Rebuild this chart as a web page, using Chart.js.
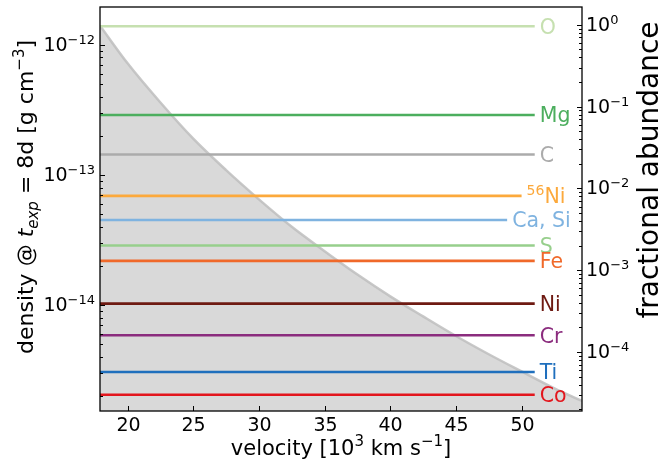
<!DOCTYPE html>
<html>
<head>
<meta charset="utf-8">
<script src="https://cdn.jsdelivr.net/npm/chart.js@4.4.0/dist/chart.umd.min.js"></script>
<style>
  html, body { margin: 0; padding: 0; background: #fff; }
</style>
</head>
<body>
<canvas id="chart" width="665" height="460"></canvas>
<script>
// ── Datos ─────────────────────────────────────────────────────────────────────
// perfil de densidad (zona sombreada, eje izquierdo)
const velocity = [17.9, 20, 22.5, 25, 27.5, 30, 32.5, 35, 37.5, 40, 42.5, 45, 47.5, 50, 52.5, 54.6];
const density  = [1.4e-12, 7.2e-13, 3.6e-13, 1.9e-13, 1.09e-13, 6.5e-14, 4.0e-14, 2.6e-14,
                  1.72e-14, 1.17e-14, 8.2e-15, 5.8e-15, 4.2e-15, 3.1e-15, 2.3e-15, 1.84e-15];

// abundancias (líneas horizontales, eje derecho)
const elements   = ['O', 'Mg', 'C', '56Ni', 'Ca, Si', 'S', 'Fe', 'Ni', 'Cr', 'Ti', 'Co'];
const abundance  = [0.96, 0.079, 0.026, 0.0081, 0.0041, 0.0020, 0.0013, 3.9e-4, 1.6e-4, 5.7e-5, 3.0e-5];
const lineStart  = 17.9;
const lineEnd    = [51, 51, 51, 50, 48.9, 51, 51, 51, 51, 51, 51];
const elemColors = ['#c6e0b0', '#4cae5e', '#ababab', '#fca93c', '#7fb3e0', '#97cf8c',
                    '#f0692a', '#6e1a12', '#8b2c7e', '#1f6fbd', '#e3161d'];

// ticks
const xTicks  = [20, 25, 30, 35, 40, 45, 50];
const yDecades  = [-12, -13, -14];
const y2Decades = [0, -1, -2, -3, -4];

const FONT = '"DejaVu Sans", sans-serif';

// ── Texto con super/subíndices ────────────────────────────────────────────────
function drawRich(ctx, segs, cx, cy, size, rot, align = 'center') {
  ctx.save();
  ctx.translate(cx, cy);
  ctx.rotate(rot);
  const fontOf = s => `${s.it ? 'italic ' : ''}${(s.sup || s.sub) ? Math.round(size * 0.7) : size}px ${FONT}`;
  let total = 0;
  segs.forEach(s => { ctx.font = fontOf(s); s.w = ctx.measureText(s.t).width; total += s.w; });
  let x = align === 'center' ? -total / 2 : align === 'right' ? -total : 0;
  ctx.textBaseline = 'alphabetic';
  ctx.textAlign = 'left';
  segs.forEach(s => {
    ctx.font = fontOf(s);
    ctx.fillStyle = s.color || '#000';
    const dy = s.sup ? -size * 0.4 : s.sub ? size * 0.22 : 0;
    ctx.fillText(s.t, x, size * 0.36 + dy);
    x += s.w;
  });
  ctx.restore();
}

// ── Ejes estilo matplotlib (ticks hacia dentro) ───────────────────────────────
const axesDeco = {
  id: 'axesDeco',
  afterDraw(chart) {
    const { ctx, chartArea: a, scales } = chart;
    const tick = (x1, y1, x2, y2) => { ctx.beginPath(); ctx.moveTo(x1, y1); ctx.lineTo(x2, y2); ctx.stroke(); };
    ctx.save();
    ctx.strokeStyle = '#000';
    ctx.lineWidth = 1;

    // eje x
    xTicks.forEach(v => {
      const px = Math.round(scales.x.getPixelForValue(v)) + 0.5;
      tick(px, a.bottom, px, a.bottom - 5);
      drawRich(ctx, [{ t: String(v) }], px, 424, 19, 0);
    });

    // ejes log: menores + mayores
    const logTicks = (scale, x0, dir, decades, labelX, align) => {
      const lo = Math.floor(Math.log10(scale.min)), hi = Math.ceil(Math.log10(scale.max));
      for (let d = lo; d <= hi; d++) {
        for (let m = 2; m <= 9; m++) {
          const v = m * Math.pow(10, d);
          if (v < scale.min || v > scale.max) continue;
          const py = Math.round(scale.getPixelForValue(v)) + 0.5;
          tick(x0, py, x0 + dir * 3, py);
        }
      }
      decades.forEach(d => {
        const py = Math.round(scale.getPixelForValue(Math.pow(10, d))) + 0.5;
        tick(x0, py, x0 + dir * 5, py);
        const exp = d === 0 ? '0' : '\u2212' + Math.abs(d);
        drawRich(ctx, [{ t: '10' }, { t: exp, sup: true }], labelX, py - 1, 19, 0, align);
      });
    };
    logTicks(scales.y, a.left, 1, yDecades, 95, 'right');
    logTicks(scales.y2, a.right, -1, y2Decades, 586, 'left');

    // marco
    ctx.lineWidth = 1.3;
    ctx.strokeRect(a.left, a.top, a.right - a.left, a.bottom - a.top);

    // títulos de ejes
    drawRich(ctx, [{ t: 'velocity [10' }, { t: '3', sup: true }, { t: ' km s' }, { t: '\u22121', sup: true }, { t: ']' }],
      (a.left + a.right) / 2, 447, 21, 0);
    drawRich(ctx, [{ t: 'density @ ' }, { t: 't', it: true }, { t: 'exp', sub: true, it: true }, { t: ' = 8d [g cm' },
      { t: '\u22123', sup: true }, { t: ']' }], 25, 197, 22, -Math.PI / 2);
    drawRich(ctx, [{ t: 'fractional abundance' }], 648, 170, 28, -Math.PI / 2);

    // etiquetas de elementos
    elements.forEach((el, i) => {
      const x = scales.x.getPixelForValue(lineEnd[i]) + 5;
      const y = scales.y2.getPixelForValue(abundance[i]);
      const segs = el === '56Ni'
        ? [{ t: '56', sup: true, color: elemColors[i] }, { t: 'Ni', color: elemColors[i] }]
        : [{ t: el, color: elemColors[i] }];
      drawRich(ctx, segs, x, y, 20.5, 0, 'left');
    });
    ctx.restore();
  }
};

// ── Datasets ──────────────────────────────────────────────────────────────────
const datasets = [{
  data: velocity.map((v, i) => ({ x: v, y: density[i] })),
  yAxisID: 'y',
  borderColor: 'rgba(190,190,190,0.85)',
  borderWidth: 2.5,
  backgroundColor: '#d9d9d9',
  fill: 'start',
  pointRadius: 0,
  cubicInterpolationMode: 'monotone',
  order: 2,
}];
elements.forEach((el, i) => {
  datasets.push({
    label: el,
    data: [{ x: lineStart, y: abundance[i] }, { x: lineEnd[i], y: abundance[i] }],
    yAxisID: 'y2',
    borderColor: elemColors[i],
    borderWidth: 2.6,
    pointRadius: 0,
    fill: false,
    order: 1,
  });
});

new Chart(document.getElementById('chart'), {
  type: 'line',
  data: { datasets },
  plugins: [axesDeco],
  options: {
    responsive: false,
    devicePixelRatio: 1,
    animation: false,
    layout: { padding: { left: 100, right: 83, top: 7, bottom: 49 } },
    plugins: { legend: { display: false }, tooltip: { enabled: false } },
    scales: {
      x:  { type: 'linear', min: 17.9, max: 54.6, display: false },
      y:  { type: 'logarithmic', position: 'left', min: 1.54e-15, max: 1.95e-12, display: false },
      y2: { type: 'logarithmic', position: 'right', min: 1.9e-5, max: 1.65, display: false },
    },
  },
});
</script>
</body>
</html>
